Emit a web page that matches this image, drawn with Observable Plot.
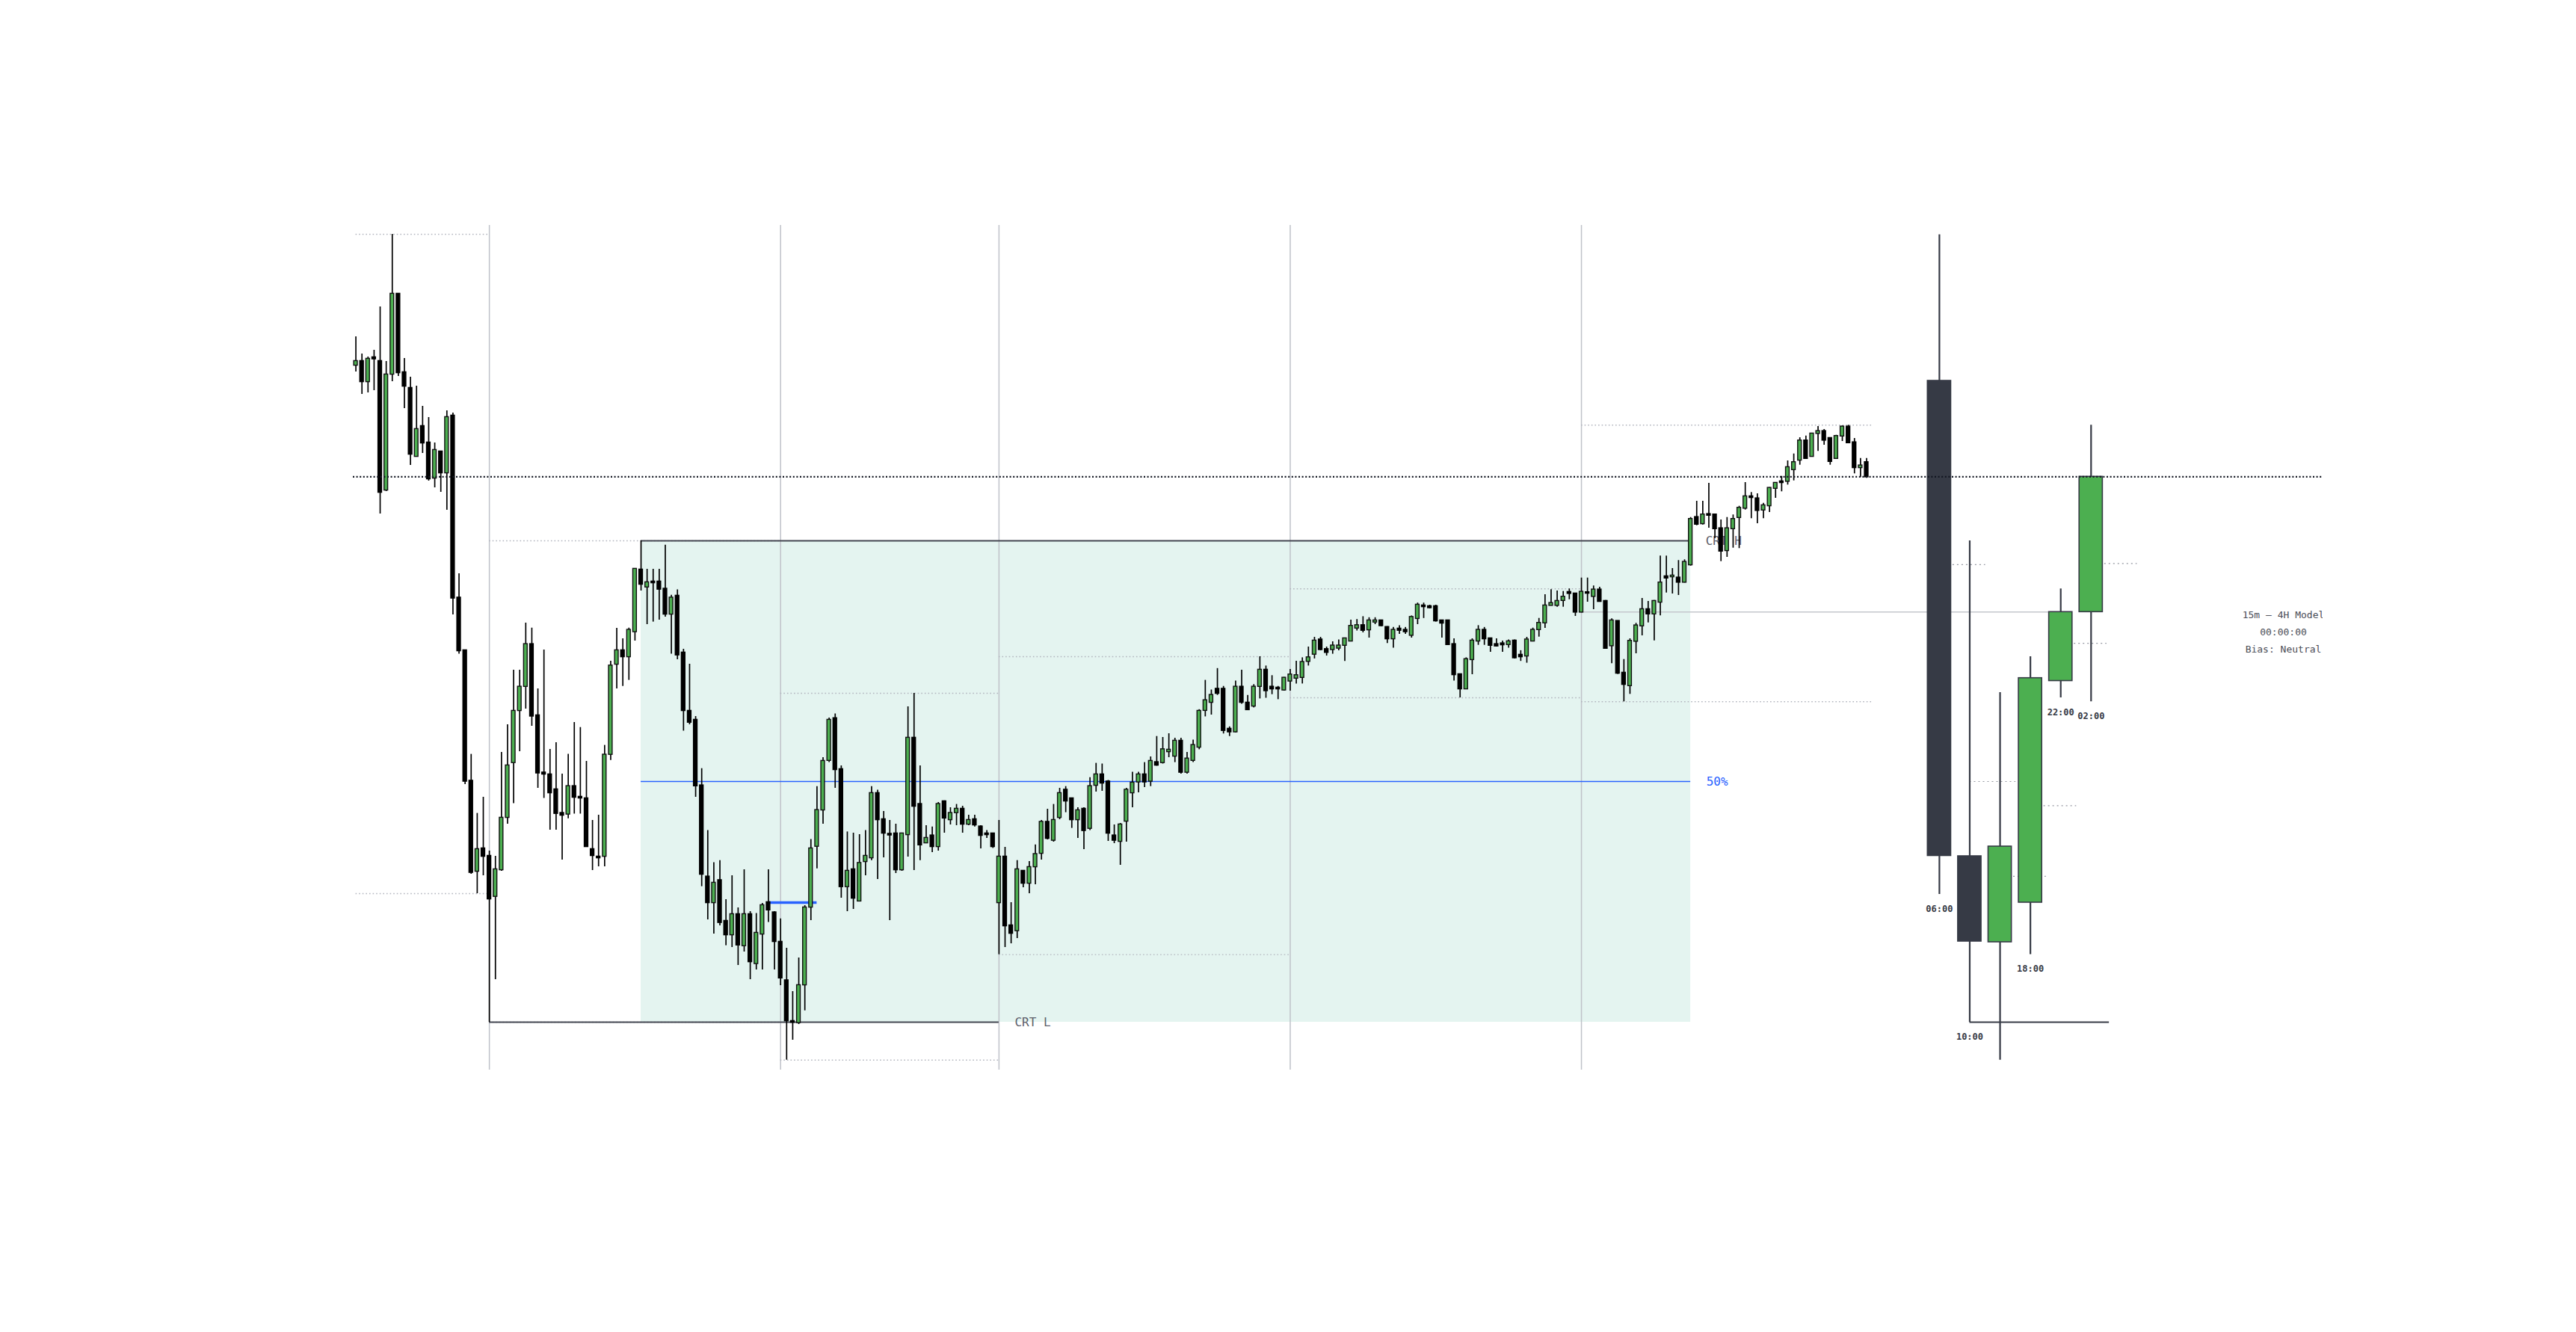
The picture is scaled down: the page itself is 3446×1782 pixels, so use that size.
<!DOCTYPE html>
<html><head><meta charset="utf-8">
<script src="https://cdn.jsdelivr.net/npm/d3@7"></script>
<script src="https://cdn.jsdelivr.net/npm/@observablehq/plot@0.6"></script>
<style>html,body{margin:0;padding:0;background:#fff;overflow:hidden}</style>
</head><body><div id="chart"></div>
<script>
// ---- 5m candles (price units) ----
const ltfOpen = [
1512,1517,1490,1522,1517,1345,1500,1607,1502,1481,
1390,1430,1408,1361,1396,1368,1444,1200.5,1130,955.5,
835,865,855,801.4,837,907,980.4,1050,1082.3,1138.3,
1043,966.5,964,944,912.4,911.5,948.3,934,932,864,
854,855,991.4,1112,1130,1122,1155.5,1238,1215.3,1222,
1222,1212.4,1179,1203,1127,1049,1037,949.3,827.3,793,
822.5,768,750,777,735.4,777,711.5,751,793,779.4,
740,688.5,634,632.5,683,787,868.4,917,983.3,1039.2,
971,814.4,837,795.2,848,853,939,904,884.5,885,
837,884,1013,924.4,873,882.3,868,928,904,913.4,
918,898,904,894.3,885,885,793,854,762,755.5,
835,819,841,859,900.5,876.5,907,943.5,932,904,
918,892.4,950,964,954.5,882.3,875,902,940,954.5,
964,955.5,980.4,980.4,995,989,1009,967.5,983.3,1001,
1050.2,1061,1078.5,1078.5,1025,1021.5,1081.3,1060,1056,1082.3,
1104,1081.3,1080,1077.5,1089.5,1093.3,1094.3,1115.8,1125.4,1144.5,
1131.6,1131.6,1133.5,1137.3,1143,1160.3,1163.6,1158,1168.4,1170,
1161.2,1146,1159,1157.4,1150.7,1173.2,1190,1189,1189,1170,
1170,1138.3,1098,1079,1118.2,1143,1157.4,1146,1138.3,1139.3,
1138.3,1143,1124,1123,1143,1158.3,1167.3,1190.7,1190.7,1197.3,
1208,1206,1181.7,1207.7,1202.7,1211.3,1196,1136.7,1169.3,1100,
1083.3,1142.7,1163.3,1185,1179.3,1195,1229,1229,1227.3,1221.7,
1245,1308.3,1300,1312.3,1311.7,1293.3,1264,1293.3,1308.3,1320.7,
1336,1333.3,1318.3,1324,1347.3,1356,1356.7,1372.3,1385,1410.7,
1390,1420.7,1423.3,1414,1387.3,1417.3,1429.3,1408.3,1375,1381.7];
const ltfHigh = [
1550,1527,1523,1532,1590,1517,1687,1607,1521,1496,
1484,1457,1442,1408,1396,1451,1448,1233,1130,991.4,
912.4,934,862,855,994,1031,1104,1104,1167,1160.3,
1079,1131,998,1007,965,991.4,1034,1027.3,982,903,
910,1003.4,1116,1160,1146,1160.3,1239,1277,1239,1239,
1239,1271.3,1204.3,1211.5,1132,1112,1042,972.3,889.5,846.4,
849.3,797,829,786,837,781,778.5,792,837,781,
771.3,732,674,719,789,877.5,948.3,987,1040,1045.5,
976,887.6,886,884,889.5,948.3,943.5,915,903,898,
886,1055,1073,976,896,894.3,927,929.2,920,924.4,
922,910,910,896,889.5,886,903,867,793,849.3,
835,848,870.3,903,918,924.4,946,948.3,932,920,
920,960.3,979.4,978.5,956.5,897,899,946,967.5,967.5,
980.4,988,1015.3,1014,1019,1013,1013,994,1010.5,1051.2,
1090.4,1077.5,1106.2,1082.3,1028.2,1089.5,1104,1070.3,1084.7,1122,
1109.6,1096.7,1082.3,1094.3,1105,1116,1120.6,1135,1148,1148,
1135,1142,1144.5,1147,1171,1171.8,1175.6,1174.2,1174.2,1170,
1162.2,1161.2,1163.6,1161.2,1176.6,1193.8,1193.8,1191,1191,1171,
1170,1146,1098,1120.6,1146,1163.6,1161.2,1147,1146,1143,
1144.5,1144.5,1130.1,1148,1160.3,1173.3,1205,1211.7,1210,1209.3,
1212.7,1206,1227.3,1227.3,1216.7,1215,1197.3,1172.7,1170,1118.3,
1146,1166.7,1200,1196,1197.3,1256.7,1256.7,1240,1250.7,1251.7,
1308.3,1330,1330,1354,1311.7,1305,1308.3,1311.7,1323.3,1355,
1341.7,1340,1327.3,1348.3,1355,1363.3,1384,1393.3,1415,1417.3,
1420.7,1430,1426,1415,1418.3,1430.7,1431.7,1414,1387.3,1387.3];
const ltfLow = [
1503,1473,1475,1478,1313,1343,1490,1497,1454,1378,
1390,1394,1357,1348,1342,1318,1178,1125.4,951,831,
805,829,633,690,835,898,925.4,995,1052,1029,
946,932.5,890,890,850,905.3,911.5,911.5,867,836,
841,841,983.3,1079,1082.3,1090.4,1143,1210,1165,1168.4,
1171,1175,1125.4,1118,1022.5,1031,934,814.4,770,751,
762,735.4,733,709,727,690,703,703,766.5,703,
682,582.3,609,630,648.3,769,838.3,898,980.4,946,
799,781,784,795.2,829,849.3,824,853,769,832,
835,854,836,849.3,872,860,862,886,897,896,
886,896,894.3,865,879,865.6,723.4,733,738,745,
813,805,817,850,877,874,904,913.4,892.4,879,
864,889.5,941,942,875,872,843,874,920,940,
947,948.3,975.6,978.5,987,980.4,965,965,980.4,997.6,
1041.6,1044,1070.3,1018.7,1015.3,1020,1058.4,1050.2,1053.6,1065.6,
1066.5,1071.3,1064.6,1076,1076,1085.6,1085.6,1109.6,1119.1,1130.1,
1123,1125.4,1130.1,1115.8,1142,1156.5,1154,1147,1165,1162.2,
1139.7,1133.5,1152,1152,1147,1165,1173.2,1186.1,1168.4,1147,
1137.3,1089.5,1067,1079,1098,1137.3,1137.3,1128,1135,1128,
1133.5,1119,1115.8,1113.4,1142,1148.3,1160,1190,1188.3,1188.3,
1198.3,1176,1180.7,1195,1185,1195,1132.7,1112.7,1098.3,1061.7,
1071.7,1126,1150,1167.3,1143.3,1176.7,1207.3,1206,1204,1220.7,
1243.3,1297.3,1298.3,1294,1280,1249.3,1255,1267.3,1266.7,1318.3,
1306.7,1300,1306.7,1315,1334,1342.7,1351.7,1357.3,1378.3,1386.7,
1389.3,1396.7,1405,1378.3,1386,1410,1408.3,1366.7,1361.7,1360.7];
const ltfClose = [
1517,1490,1520,1520.5,1342,1499,1607,1502,1484,1393,
1426,1408,1360,1398,1368,1442,1200.5,1130,955.5,833.5,
864,855,798,837,906,976,1049,1081.3,1138.3,1042.6,
966.5,965,940,912.4,910,948.3,934,933,868,856,
853,990.4,1109.6,1130,1122,1157.4,1239,1219,1221,1221,
1212.4,1179,1200.5,1124.4,1050,1034.4,949.3,831,793,819,
766.5,750,777,736.4,777,714,752,789,783.3,741,
692.3,635,633,682,786,865,916.3,982,1037,971,
814.4,835,799,845.5,855,939,904,886,883.5,837,
885,1013,922,870.3,879,868,924.4,906.2,912.4,918,
898,903,897,883,884,868,854,762,752,837,
819,840,857.4,900.5,879,903,939,929,904,916,
889.5,948.3,964,953,886,876.5,897,943.5,953,964,
954.5,982,977,997.6,997,1009,967.5,985.2,1003.3,1049,
1063.2,1070.3,1073,1023.4,1021.5,1081.3,1061,1051.2,1081.3,1104,
1076.6,1079,1079,1093.3,1097.6,1096.7,1114.4,1120.6,1143,1131.6,
1127.8,1136.4,1136.4,1146,1162.7,1163.6,1157.4,1170,1170,1163.6,
1146,1157.4,1157.4,1155.5,1174.6,1191,1189,1187.6,1170,1167,
1138.3,1098,1079,1118.2,1143,1157.4,1146,1137.3,1136.4,1138,
1142,1120.6,1122,1144.5,1157.4,1166.7,1190,1193.3,1196,1201.7,
1206.7,1181.7,1208.3,1207,1211.3,1196,1133.3,1170,1100,1085,
1142.7,1163.3,1185,1179.3,1196,1220.7,1227.3,1230,1221.7,1248.3,
1305.7,1299.3,1311.7,1311.3,1293.3,1263.3,1293.3,1305.7,1320.7,1336,
1335,1317.7,1324,1347.3,1354,1355,1375,1381.7,1410.7,1387.3,
1420,1423.3,1411.7,1383.3,1416.7,1429.3,1408.3,1375,1377.3,1362.7];

// session (4H) start indices within the 5m series
const sessionStarts = [0, 22, 70, 106, 154, 202];

// ---- 4H candles ----
const htfLabels = ["06:00", "10:00", "14:00", "18:00", "22:00", "02:00"];
const htfOpen  = [1491, 855, 740, 793, 1089.5, 1181.7];
const htfHigh  = [1686.4, 1277, 1074, 1122, 1212.7, 1431.7];
const htfLow   = [804, 633, 582.3, 723.4, 1067, 1061.7];
const htfClose = [855.5, 741, 868, 1093.3, 1181.7, 1362.7];

// ---- CRT range ----
const crtHigh = 1277, crtLow = 633;
const crtHighIdx = 47, crtLowIdx = 22, crtBreakIdx = 220, crtLowEndIdx = 106;
const crtLabels = ["CRT H", "CRT L", "50%"];
const blueLevel = 793, blueFromIdx = 68, blueToIdx = 76;
const infoLines = ["15m \u2014 4H Model", "00:00:00", "Bias: Neutral"];

// ---- build ----
const N = ltfOpen.length;
const candles = d3.range(N).map(i => {
  const o = ltfOpen[i], c = ltfClose[i];
  return {i, o, c, h: Math.max(ltfHigh[i], o, c), l: Math.min(ltfLow[i], o, c)};
});
const sessions = sessionStarts.map((s, k) => {
  const e = k + 1 < sessionStarts.length ? sessionStarts[k + 1] : N;
  const sl = candles.slice(s, e);
  return {s, e, hi: d3.max(sl, d => d.h), lo: d3.min(sl, d => d.l), open: sl[0].o};
});
const HTF_X0 = N + 11, HTF_STEP = 5;
const htf = htfLabels.map((lab, k) => ({lab, x: HTF_X0 + k * HTF_STEP,
  o: htfOpen[k], h: htfHigh[k], l: htfLow[k], c: htfClose[k]}));
const lastClose = ltfClose[N - 1];
const mid = (crtHigh + crtLow) / 2;

const mono = "DejaVu Sans Mono, monospace";
const up = candles.filter(d => d.c >= d.o), dn = candles.filter(d => d.c < d.o);
const hw = 0.3, HW = 1.92;

const chart = Plot.plot({
  width: 3446, height: 1782,
  marginLeft: 472, marginRight: 339, marginTop: 301, marginBottom: 351,
  x: {domain: [-0.44, 324.22], axis: null},
  y: {domain: [569, 1699], axis: null},
  style: {background: "#ffffff"},
  marks: [
    // CRT range box
    Plot.rect([0], {x1: () => crtHighIdx, x2: () => crtBreakIdx, y1: () => crtLow, y2: () => crtHigh, fill: "#e4f4f0"}),
    // session separators
    Plot.ruleX(sessionStarts.slice(1), {stroke: "#bfc2c9", strokeWidth: 1.5}),
    // session highs / lows
    Plot.ruleY(sessions, {y: "hi", x1: "s", x2: "e", stroke: "#b2b5be", strokeWidth: 1.4, strokeDasharray: "1.6,3"}),
    Plot.ruleY(sessions, {y: "lo", x1: "s", x2: "e", stroke: "#b2b5be", strokeWidth: 1.4, strokeDasharray: "1.6,3"}),
    // current session open line
    Plot.ruleY([sessions[sessions.length - 1]], {y: "open", x1: "s", x2: () => htf[4].x, stroke: "#c3c6cc", strokeWidth: 1.6}),
    // CRT lines
    Plot.ruleY([crtHigh], {x1: () => crtHighIdx, x2: () => crtBreakIdx, stroke: "#434651", strokeWidth: 2}),
    Plot.ruleY([crtLow], {x1: () => crtLowIdx, x2: () => crtLowEndIdx, stroke: "#434651", strokeWidth: 2}),
    Plot.ruleY([mid], {x1: () => crtHighIdx, x2: () => crtBreakIdx, stroke: "#2962ff", strokeWidth: 1.6}),
    Plot.ruleY([blueLevel], {x1: () => blueFromIdx, x2: () => blueToIdx, stroke: "#2962ff", strokeWidth: 3.5}),
    // labels
    Plot.text([crtLabels[0]], {x: () => crtBreakIdx, y: () => crtHigh, dx: 20, text: d => d, textAnchor: "start", fontFamily: mono, fontSize: 16, fill: "#5d606b"}),
    Plot.text([crtLabels[1]], {x: () => crtLowEndIdx, y: () => crtLow, dx: 21, text: d => d, textAnchor: "start", fontFamily: mono, fontSize: 16, fill: "#5d606b"}),
    Plot.text([crtLabels[2]], {x: () => crtBreakIdx, y: () => mid, dx: 21, text: d => d, textAnchor: "start", fontFamily: mono, fontSize: 16, fill: "#2962ff"}),
    // 5m candles
    Plot.ruleX(candles, {x: "i", y1: "l", y2: "h", stroke: "#000", strokeWidth: 1.7}),
    Plot.rect(dn, {x1: d => d.i - hw, x2: d => d.i + hw, y1: "o", y2: "c", fill: "#000", stroke: "#000", strokeWidth: 1.4, insetTop: -0.6, insetBottom: -0.6}),
    Plot.rect(up, {x1: d => d.i - hw, x2: d => d.i + hw, y1: "o", y2: "c", fill: "#4caf50", stroke: "#111", strokeWidth: 1.4, insetTop: -0.6, insetBottom: -0.6}),
    // 4H candles
    Plot.ruleY(htf, {y: d => (d.h + d.l) / 2, x1: "x", x2: d => d.x + 7.6, stroke: "#9598a1", strokeWidth: 1.2, strokeDasharray: "2,4"}),
    Plot.ruleY([htf[1]], {y: "l", x1: "x", x2: () => htf[5].x + 3, stroke: "#363a45", strokeWidth: 2}),
    Plot.ruleX(htf, {x: "x", y1: "l", y2: "h", stroke: "#363a45", strokeWidth: 2.2}),
    Plot.rect(htf, {x1: d => d.x - HW, x2: d => d.x + HW, y1: "o", y2: "c",
      fill: d => d.c >= d.o ? "#4caf50" : "#363a45", stroke: "#363a45", strokeWidth: 1.6}),
    Plot.text(htf, {x: "x", y: "l", dy: 19.5, text: "lab", fontFamily: mono, fontWeight: "bold", fontSize: 12, fill: "#363a45", clip: true}),
    // current price
    Plot.ruleY([lastClose], {stroke: "#131722", strokeWidth: 2.2, strokeDasharray: "2,2.6"}),
    // info block
    ...infoLines.map((t, k) => Plot.text([t], {frameAnchor: "right", dx: -53, dy: -43.3 + k * 22.65, text: d => d,
      textAnchor: "middle", fontFamily: mono, fontSize: 13, fill: "#4a4d57", clip: true}))
  ],
  color: {type: "identity"}
});
document.getElementById("chart").appendChild(chart);
</script></body></html>
